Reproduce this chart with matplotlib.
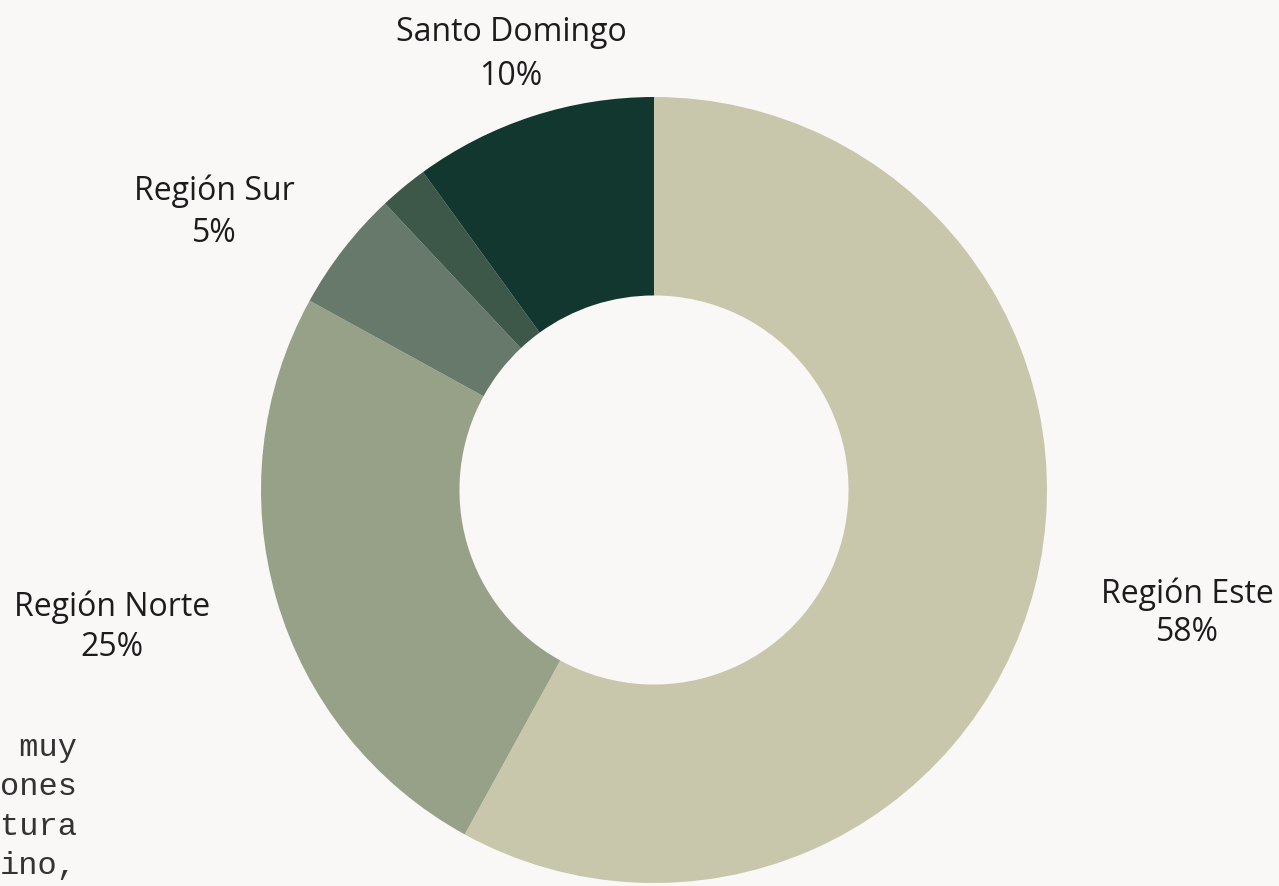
import matplotlib
matplotlib.use("Agg")
import matplotlib.pyplot as plt

categories = ["Región Este", "Región Norte", "Región Sur", "Otras", "Santo Domingo"]
values = [58, 25, 5, 2, 10]
show_label = [True, True, True, False, True]
colors = ["#c8c6ab", "#97a188", "#66796a", "#3d5749", "#12372f"]
label_pos = {  # pixel positions: center x, name baseline y, percent baseline y
    "Región Este": (1187, 603, 641),
    "Región Norte": (112, 616, 656),
    "Región Sur": (214, 200, 242),
    "Santo Domingo": (511, 41, 85),
}
side_text = [" muy", "ones", "tura", "ino,"]

W, H = 1279, 887
bg = "#f9f8f6"
fig = plt.figure(figsize=(W / 100, H / 100), dpi=100, facecolor=bg)

cx, cy, R = 654, 491, 393
ax = fig.add_axes([(cx - R) / W, 1 - (cy + R) / H, 2 * R / W, 2 * R / H])
ax.set_facecolor(bg)
ax.pie(values, colors=colors, startangle=90, counterclock=False,
       wedgeprops=dict(width=0.505, linewidth=0), radius=1.0)
ax.set_xlim(-1, 1)
ax.set_ylim(-1, 1)
ax.set_aspect("equal")
ax.axis("off")

font = ["Open Sans", "DejaVu Sans"]
for name, v, s in zip(categories, values, show_label):
    if not s:
        continue
    x, yn, yp = label_pos[name]
    fig.text(x / W, 1 - yn / H, name, ha="center", va="baseline", fontsize=23,
             color="#1c1c1c", family=font, weight="medium")
    fig.text(x / W, 1 - yp / H, f"{v}%", ha="center", va="baseline", fontsize=23,
             color="#1c1c1c", family=font, weight="medium")

for i, t in enumerate(side_text):
    fig.text(0 / W, 1 - (748 + i * 39.5) / H, t, ha="left", va="center", fontsize=23,
             color="#333333", family=["Liberation Mono", "DejaVu Sans Mono"])

fig.savefig("out.png", dpi=100, facecolor=bg)
